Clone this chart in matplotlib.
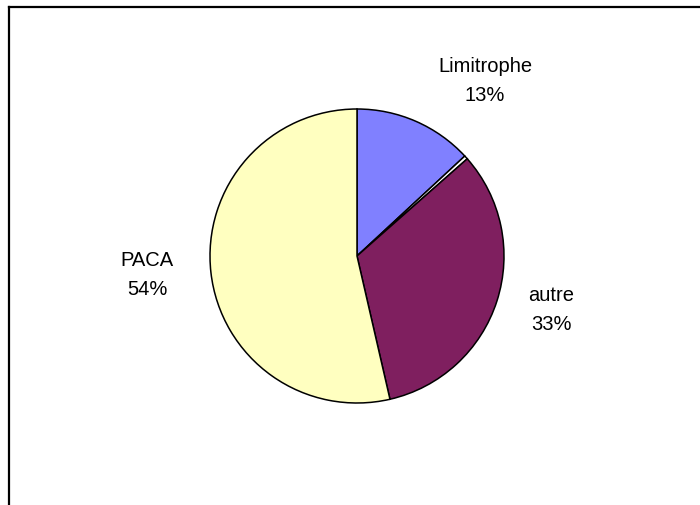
import matplotlib
matplotlib.use("Agg")
import matplotlib.pyplot as plt
from matplotlib.lines import Line2D

categories = ["Limitrophe", "", "autre", "PACA"]
values = [13.1, 0.4, 32.9, 53.6]
label_texts = ["Limitrophe\n13%", "autre\n33%", "PACA\n54%"]
colors = ["#8080FF", "#FFFFFF", "#7F1F5F", "#FFFFC0"]

W, H = 700, 506
fig = plt.figure(figsize=(W / 100, H / 100), dpi=100)
fig.patch.set_facecolor("white")
ax = fig.add_axes([0, 0, 1, 1])

cx, cy, r = 357, H - 257, 147
ax.pie(values, colors=colors, startangle=90, counterclock=False,
       center=(cx, cy), radius=r, frame=True,
       wedgeprops=dict(edgecolor="black", linewidth=1.1))
ax.set_xlim(0, W)
ax.set_ylim(0, H)
ax.set_aspect("equal")
ax.axis("off")

label_pos = [(485, H - 81), (551, H - 310), (147, H - 275)]
for (x, y), t in zip(label_pos, label_texts):
    ax.text(x, y, t, ha="center", va="center", fontsize=14.5,
            family="Liberation Sans", linespacing=1.7, color="black")

# outer frame (top and left edges visible)
fig.add_artist(Line2D([9 / W, 1.0], [1 - 8 / H, 1 - 8 / H], transform=fig.transFigure,
                      color="black", linewidth=1.6))
fig.add_artist(Line2D([9 / W, 9 / W], [0, 1 - 8 / H], transform=fig.transFigure,
                      color="black", linewidth=1.6))

fig.savefig("out.png", dpi=100, facecolor="white")
